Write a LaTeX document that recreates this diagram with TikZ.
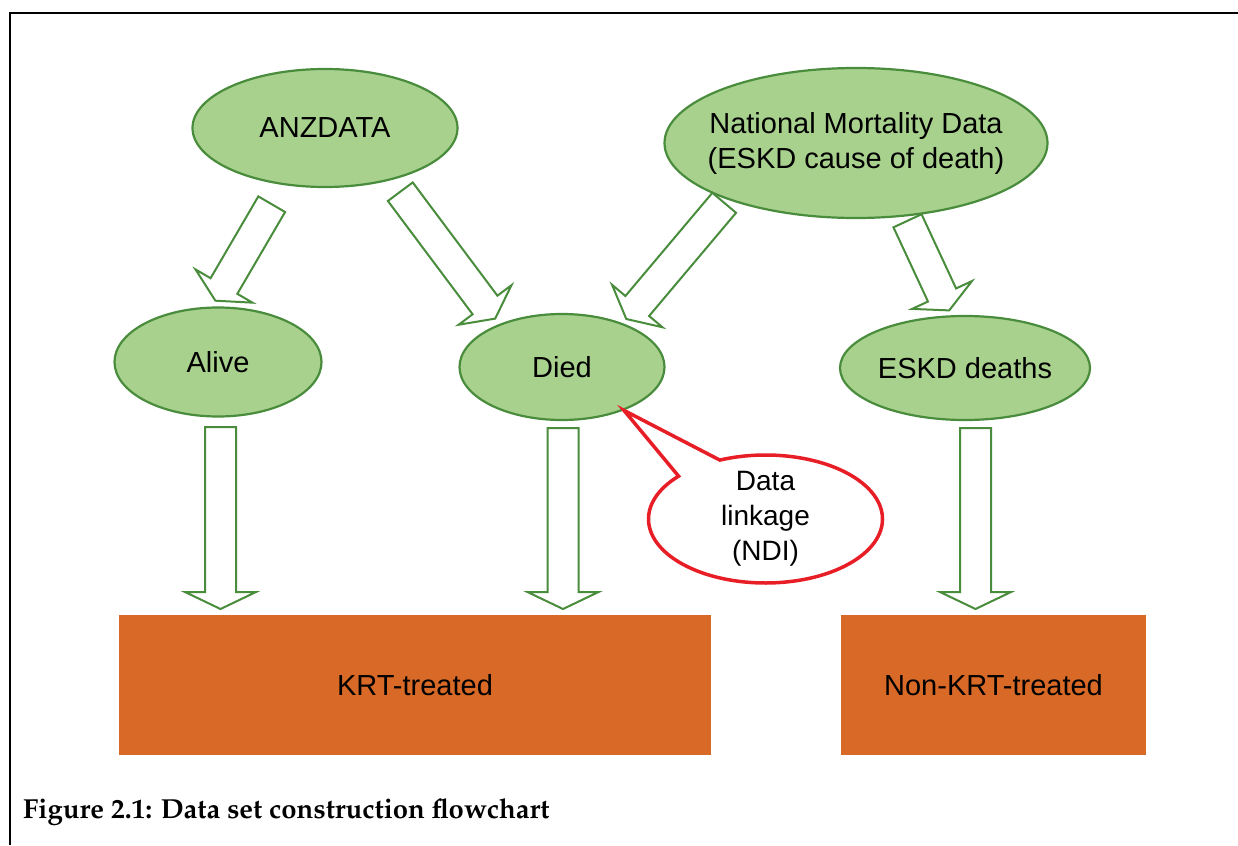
\documentclass[tikz,border=0pt]{standalone}
\usepackage[T1]{fontenc}
\usepackage{fontspec}
\setmainfont{Liberation Sans}
\usetikzlibrary{shapes.geometric,shapes.callouts,calc}

\definecolor{leaf}{RGB}{169,209,142}
\definecolor{leafline}{RGB}{72,140,60}
\definecolor{brick}{RGB}{217,105,38}
\definecolor{alarm}{RGB}{232,30,38}

\tikzset{
  src/.style={ellipse, draw=leafline, fill=leaf, line width=2.2pt, inner sep=0pt},
  sink/.style={rectangle, fill=brick, minimum height=140pt, inner sep=0pt},
  hollow/.style={draw=leafline, fill=white, line width=2pt, line join=miter},
  bubble/.style={ellipse callout, draw=alarm, fill=white, line width=3.5pt, align=center, inner xsep=0pt, inner ysep=-12pt},
}

% block arrow: [head half width]{tail}{tip}
\newcommand{\blockarrow}[3][33pt]{%
  \path ($(#3)!17pt!(#2)$) coordinate (ba);
  \draw[hollow] ($(#2)!15.5pt!90:(#3)$) -- ($(ba)!15.5pt!90:(#3)$)
    -- ($(ba)!#1!90:(#3)$) -- (#3) -- ($(ba)!#1!-90:(#3)$)
    -- ($(ba)!15.5pt!-90:(#3)$) -- ($(#2)!15.5pt!-90:(#3)$) -- cycle;
}

\begin{document}
\begin{tikzpicture}[x=1pt, y=-1pt, font=\fontsize{29}{35}\selectfont]
\useasboundingbox (0,0) rectangle (1238,845);
% frame
\draw[line width=2.5pt] (10,845) -- (10,13) -- (1238,13);

% sources
\node[src, minimum width=265pt, minimum height=118pt] (anz) at (325,128) {ANZDATA};
\node[src, minimum width=383pt, minimum height=150pt, inner xsep=-25pt, align=center] (nmd) at (856,143) {National Mortality Data\\(ESKD cause of death)};

% outcomes
\node[src, minimum width=207pt, minimum height=109pt] (alive) at (218,362) {Alive};
\node[src, minimum width=205pt, minimum height=106pt] (died) at (562,367) {Died};
\node[src, minimum width=250pt, minimum height=104pt] (eskd) at (965,368) {ESKD deaths};

% treated groups
\node[sink, minimum width=592pt] (krt) at (415,685) {KRT-treated};
\node[sink, minimum width=305pt] (nonkrt) at (993.5,685) {Non-KRT-treated};

% arrow ends
\coordinate (t1) at (271.7,204.2); \coordinate (h1) at (215.4,300.7);
\coordinate (t2) at (400.3,191.7); \coordinate (h2) at (495.2,318.6);
\coordinate (t3) at (724.2,202.8); \coordinate (h3) at (626.3,319);
\coordinate (t4) at (907.5,220.8); \coordinate (h4) at (949.2,310.4);
\coordinate (t5) at (220.5,427); \coordinate (h5) at (220.5,609);
\coordinate (t6) at (563,428); \coordinate (h6) at (563,609);
\coordinate (t7) at (975.5,428); \coordinate (h7) at (975.5,609);

\foreach \i in {1,...,4} {\blockarrow{t\i}{h\i}}
\foreach \i in {5,6,7} {\blockarrow[35.5pt]{t\i}{h\i}}

% linkage callout
\node[bubble, font=\fontsize{28}{35}\selectfont, minimum width=234pt, minimum height=128pt,
  callout absolute pointer={(died.-35)}, callout pointer arc=25] (link) at (765.5,519) {Data\\linkage\\(NDI)};

% caption
\node[anchor=base west, inner sep=0pt, font=\fontencoding{T1}\fontfamily{ppl}\fontseries{b}\fontsize{27.5}{33}\selectfont] (cap) at (23,818) {Figure 2.1: Data set construction flowchart};
\end{tikzpicture}
\end{document}
